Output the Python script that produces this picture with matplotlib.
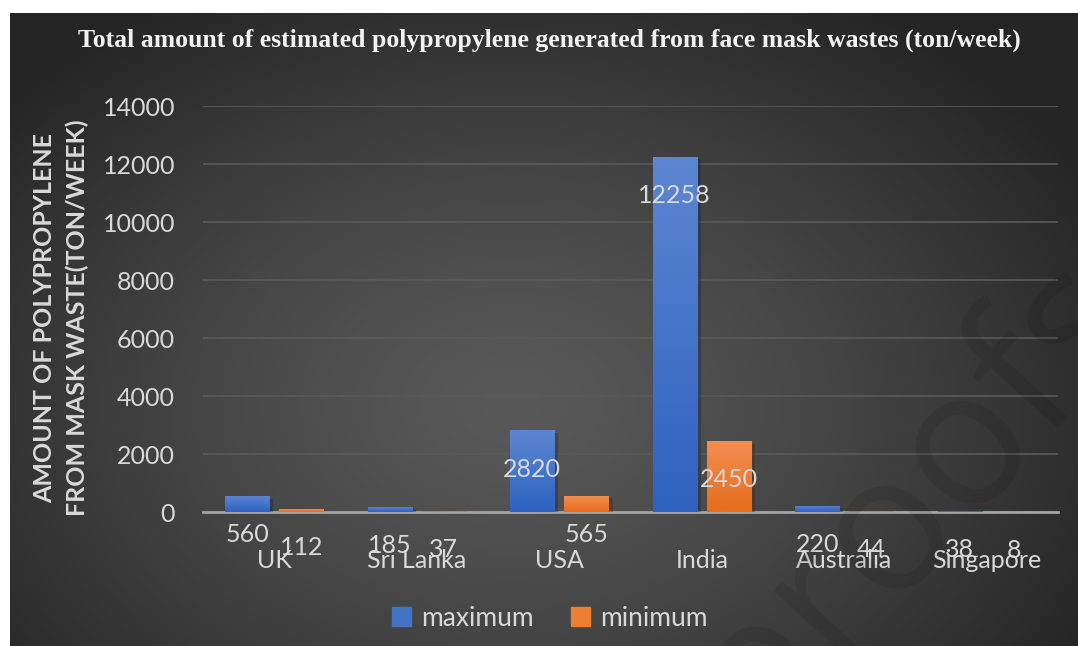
import numpy as np
import matplotlib.pyplot as plt
from matplotlib.colors import LinearSegmentedColormap
from matplotlib.patches import Patch
import matplotlib.patheffects as pe

# data: polypropylene from face mask waste (ton/week)
countries = ["UK", "Sri Lanka", "USA", "India", "Australia", "Singapore"]
maximum = [560, 185, 2820, 12258, 220, 38]
minimum = [112, 37, 565, 2450, 44, 8]
yticks = [0, 2000, 4000, 6000, 8000, 10000, 12000, 14000]

W, H = 1078, 646
fig = plt.figure(figsize=(W / 100, H / 100), dpi=100, facecolor="white")
plt.rcParams['font.family'] = ['Lato', 'DejaVu Sans']
txt = "#d9d9d9"

# dark radial background panel
bg = fig.add_axes([10 / W, 0, 1 - 10 / W, 1 - 13 / H])
yy, xx = np.mgrid[0:1:300j, 0:1:500j]
r = np.sqrt(((xx - 0.47) / 0.62) ** 2 + ((yy - 0.62) / 0.75) ** 2)
r = np.clip(r, 0, 1) ** 1.3
lum = (0x59 - (0x59 - 0x25) * r) / 255
bg.imshow(np.dstack([lum, lum, lum]), aspect="auto", extent=[0, 1, 0, 1], origin="upper")
bg.set_axis_off()

# faint watermark
fig.text(913 / W, 1 - 497 / H, "proofs", fontsize=137, color="black", alpha=0.09,
         rotation=48, rotation_mode="anchor", ha="center", va="center",
         family=["Open Sans", "DejaVu Sans"], zorder=1)

ax = fig.add_axes([203 / W, 1 - 512 / H, 855 / W, 406 / H])
ax.set_facecolor("none")

x = np.arange(len(countries))
bw, off = 0.31, 0.19
b1 = ax.bar(x - off, maximum, bw, color="#4472c4", zorder=3)
b2 = ax.bar(x + off, minimum, bw, color="#ed7d31", zorder=3)


def shade(bars, top, bottom):
    cmap = LinearSegmentedColormap.from_list("g", [bottom, top])
    grad = np.linspace(0, 1, 64).reshape(-1, 1)
    for b in bars:
        b.set_path_effects([pe.SimplePatchShadow(offset=(3, -2), alpha=0.35), pe.Normal()])
        x0, w, h = b.get_x(), b.get_width(), b.get_height()
        im = ax.imshow(grad, cmap=cmap, extent=[x0, x0 + w, 0, h], origin="lower",
                       aspect="auto", zorder=4)
        im.set_clip_path(b)


shade(b1, "#5c86d1", "#2f62c0")
shade(b2, "#f28f53", "#e86d1d")

ax.set_xlim(-0.5, len(countries) - 0.5)
ax.set_ylim(0, 14000)
ax.set_yticks(yticks)
ax.set_xticks(x)
ax.set_xticklabels(countries)
ax.tick_params(axis="both", length=0, labelcolor=txt, labelsize=18)
ax.tick_params(axis="y", pad=20)
ax.tick_params(axis="x", pad=27)
for s in ["top", "right", "left"]:
    ax.spines[s].set_visible(False)
ax.spines["bottom"].set_color("#a3a3a3")
ax.spines["bottom"].set_linewidth(2)
ax.spines["bottom"].set_zorder(2.5)
ax.yaxis.grid(True, color="#5a5a5a", lw=1.2, zorder=0)
ax.set_axisbelow(True)

# value labels sit a fixed distance below each bar top
for bars, vals in [(b1, maximum), (b2, minimum)]:
    for b, v in zip(bars, vals):
        ax.annotate(str(v), (b.get_x() + b.get_width() / 2, v), xytext=(0, -39),
                    textcoords="offset pixels", ha="center", va="center",
                    fontsize=18, color=txt, zorder=6, annotation_clip=False)

fig.text(61 / W, 1 - 318 / H, "AMOUNT OF POLYPROPYLENE\nFROM MASK WASTE(TON/WEEK)",
         rotation=90, ha="center", va="center", ma="center", fontsize=18,
         fontweight="bold", color=txt, linespacing=1.45)

fig.text(549 / W, 1 - 40 / H,
         "Total amount of estimated polypropylene generated from face mask wastes (ton/week)",
         ha="center", va="center", fontsize=18.5, fontweight="bold", color="#f2f2f2",
         family=["Liberation Serif", "DejaVu Serif"])

handles = [Patch(color="#4472c4", label="maximum"), Patch(color="#ed7d31", label="minimum")]
fig.legend(handles=handles, loc="center", bbox_to_anchor=(550 / W, 1 - 618 / H), ncol=2,
           frameon=False, fontsize=19, labelcolor=txt, handlelength=0.7, handleheight=0.7,
           handletextpad=0.4, columnspacing=1.4)

fig.savefig("out.png", dpi=100, facecolor="white")
